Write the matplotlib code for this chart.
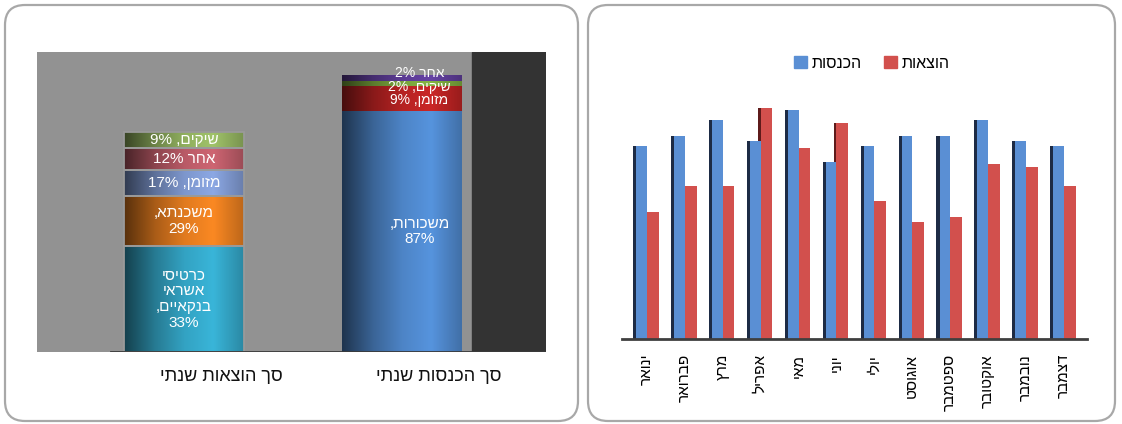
import numpy as np
import matplotlib
matplotlib.use("Agg")
import matplotlib.pyplot as plt
from matplotlib.colors import LinearSegmentedColormap, to_rgb
from matplotlib.patches import FancyBboxPatch, Patch
from matplotlib.transforms import blended_transform_factory

plt.rcParams['font.family'] = ['Liberation Sans', 'DejaVu Sans']

# ---- data ----
# left chart: annual totals (stacked, bottom -> top)
totals = ["סך הוצאות שנתי", "סך הכנסות שנתי"]
exp_values = [38.2, 18.1, 9.4, 8.1, 5.8]
exp_labels = ["כרטיסי\nאשראי\nבנקאיים,\n33%", "משכנתא,\n29%", "מזומן, 17%", "אחר 12%", "שיקים, 9%"]
inc_values = [87, 9, 2, 2]
inc_labels = ["משכורות,\n87%", "מזומן, 9%", "שיקים, 2%", "אחר 2%"]

# right chart: monthly income / expenses
months = ["ינואר", "פברואר", "מרץ", "אפריל", "מאי", "יוני", "יולי",
          "אוגוסט", "ספטמבר", "אוקטובר", "נובמבר", "דצמבר"]
income = [11300, 11900, 12850, 11600, 13450, 10400, 11300, 11900, 11900, 12850, 11650, 11300]
expenses = [7450, 9000, 9000, 13550, 11200, 12700, 8100, 6850, 7150, 10250, 10100, 9000]
series_names = ["הכנסות", "הוצאות"]


def heb(s):
    # crude visual ordering for right-to-left text
    out = []
    for line in s.split("\n"):
        toks = line.split(" ")[::-1]
        toks = [t[::-1] if any('\u0590' <= c <= '\u05ff' for c in t) else t for t in toks]
        out.append(" ".join(toks))
    return "\n".join(out)


def shaded(c):
    rgb = np.array(to_rgb(c))
    cols = [rgb * 0.4, rgb * 0.75, rgb, np.minimum(rgb * 1.12, 1), rgb * 0.85]
    return LinearSegmentedColormap.from_list("s", [tuple(x) for x in cols])


W, H = 1122, 424
fig = plt.figure(figsize=(W / 100, H / 100), dpi=100)

# panel frames
for x0, x1 in [(5, 578), (588, 1115)]:
    fig.patches.append(FancyBboxPatch((x0 / 100, 0.03), (x1 - x0) / 100, 4.16,
                                      boxstyle="round,pad=0,rounding_size=0.2",
                                      transform=fig.dpi_scale_trans, fc="none",
                                      ec="#a8a8a8", lw=1.6))

# ---- left chart ----
ax1 = fig.add_axes([37 / W, 1 - 352 / H, (546 - 37) / W, (352 - 52) / H])
ax1.set_facecolor("#929292")
ax1.axvspan(1.321, 1.661, color="#333333", zorder=1)
ax1.axhline(0, xmin=0.145, xmax=1, color="#3a3a3a", lw=2, zorder=5)

exp_colors = ["#33a2c2", "#e07a1f", "#7d96cc", "#b85a66", "#8fae5e"]
inc_colors = ["#4d84c6", "#b52222", "#78a33c", "#5b3b93"]
bw = 0.55

for xpos, vals, cols, edge in [(0, exp_values, exp_colors, True), (1, inc_values, inc_colors, False)]:
    bottoms = np.concatenate([[0], np.cumsum(vals)[:-1]])
    bars = ax1.bar([xpos] * len(vals), vals, bw, bottom=bottoms, color=cols, zorder=2)
    for rect, c in zip(bars, cols):
        x0, y0 = rect.get_xy()
        grad = np.linspace(0, 1, 64).reshape(1, -1)
        im = ax1.imshow(grad, extent=[x0, x0 + rect.get_width(), y0, y0 + rect.get_height()],
                        cmap=shaded(c), aspect="auto", zorder=3, interpolation="bilinear")
        im.set_clip_path(rect)
    if edge:
        ax1.bar([xpos] * len(vals), vals, bw, bottom=bottoms, fc="none",
                ec="#9a9a9a", lw=1.3, zorder=4)

ax1.set_xlim(-0.674, 1.661)
ax1.set_ylim(0, 108.3)

# expense labels, centered
eb = np.concatenate([[0], np.cumsum(exp_values)[:-1]])
for v, b, lab in zip(exp_values, eb, exp_labels):
    ax1.text(0, b + v / 2, heb(lab), color="white", ha="center", va="center",
             fontsize=11, linespacing=1.15, zorder=6)

# income labels (small ones nudged apart)
ib = np.concatenate([[0], np.cumsum(inc_values)[:-1]])
offs = [0, -0.6, -1.2, 1.8]
sizes = [11, 10, 10, 10]
for v, b, lab, o, fs in zip(inc_values, ib, inc_labels, offs, sizes):
    ax1.text(1.08, b + v / 2 + o, heb(lab), color="white", ha="center", va="center",
             fontsize=fs, linespacing=1.15, zorder=6)

ax1.set_xticks([])
ax1.set_yticks([])
for s in ax1.spines.values():
    s.set_visible(False)

tr = blended_transform_factory(ax1.transData, fig.transFigure)
for i, t in enumerate(totals):
    ax1.text(i + 0.17, 1 - 376 / H, heb(t), transform=tr, ha="center", va="center",
             fontsize=13, color="#111111")

# ---- right chart ----
ax2 = fig.add_axes([622 / W, 1 - 338.6 / H, 465 / W, (338.6 - 90) / H])
x = np.arange(len(months))
blue, red = "#5a8fd4", "#d2504d"
ax2.bar(x, expenses, 0.31, align="edge", color=red, zorder=2)
ax2.bar(x - 0.07, expenses, 0.07, align="edge", color="#5e1b1b", zorder=2)
ax2.bar(x, income, -0.36, align="edge", color=blue, zorder=3)
ax2.bar(x - 0.36, income, 0.08, align="edge", color="#1d2b45", zorder=3)

ax2.set_xlim(-0.656, 11.61)
ax2.set_ylim(0, 14620)
ax2.set_yticks([])
ax2.set_xticks(x)
ax2.set_xticklabels([heb(m) for m in months], rotation=90, fontsize=11, va="top")
ax2.tick_params(axis="x", length=0, pad=11)
for s in ["top", "left", "right"]:
    ax2.spines[s].set_visible(False)
ax2.spines["bottom"].set_color("#3f3f3f")
ax2.spines["bottom"].set_linewidth(2)
ax2.spines["bottom"].set_zorder(5)

handles = [Patch(color=blue), Patch(color=red)]
fig.legend(handles, [heb(n) for n in series_names], ncol=2, frameon=False,
           loc="center", bbox_to_anchor=(872 / W, 1 - 63 / H), fontsize=11.5,
           handlelength=0.8, handleheight=0.8, handletextpad=0.3, columnspacing=1.4)

fig.savefig("out.png", dpi=100)
